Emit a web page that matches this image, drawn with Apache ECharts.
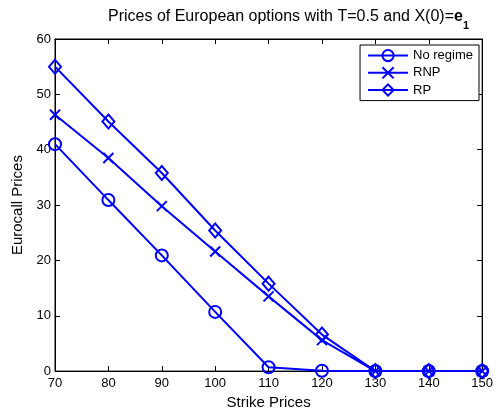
<!DOCTYPE html>
<html><head><meta charset="utf-8">
<script src="https://cdn.jsdelivr.net/npm/echarts@6/dist/echarts.min.js"></script>
<style>html,body{margin:0;padding:0;background:#fff}#c{width:496px;height:415px}</style>
</head><body><div id="c"></div>
<script>
var strikes = [70, 80, 90, 100, 110, 120, 130, 140, 150];
var noRegime = [41.0, 30.9, 20.9, 10.7, 0.7, 0.05, 0, 0, 0];
var rnp = [46.3, 38.5, 29.8, 21.6, 13.5, 5.6, 0, 0, 0];
var rp = [55.0, 45.1, 35.8, 25.4, 15.8, 6.6, 0, 0, 0];
var seriesNames = ['No regime', 'RNP', 'RP'];

var BLUE = '#0000ff';
var FONT = 'Liberation Sans, Arial, sans-serif';
function pairs(vals){ return strikes.map(function(x,i){ return [x, vals[i]]; }); }

var crossPath = 'path://M0,0L10,10M10,0L0,10';
function mkSeries(name, vals, symbol, size){
  return {
    name: name, type: 'line', data: pairs(vals), symbol: symbol, symbolSize: size,
    showAllSymbol: true,
    lineStyle: { color: BLUE, width: 2 },
    itemStyle: { color: 'rgba(0,0,0,0)', borderColor: BLUE, borderWidth: 2 },
    emphasis: { disabled: true }, animation: false, z: 3
  };
}

function axisCommon(pos, labels){
  var isX = (pos === 'bottom' || pos === 'top');
  return {
    type: 'value', position: pos, min: isX ? 70 : 0, max: isX ? 150 : 60, interval: 10,
    axisLine: { show: true, onZero: false, lineStyle: { color: '#000', width: 1 } },
    axisTick: { show: true, inside: true, length: 5, lineStyle: { color: '#000' } },
    axisLabel: { show: labels, color: '#000', fontSize: 13, fontFamily: FONT, margin: isX ? 6 : 4 },
    splitLine: { show: false }
  };
}

var xb = axisCommon('bottom', true);
xb.name = 'Strike Prices'; xb.nameLocation = 'middle'; xb.nameGap = 22;
xb.nameTextStyle = { color: '#000', fontSize: 15, fontFamily: FONT };
var xt = axisCommon('top', false);
var yl = axisCommon('left', true);
yl.name = 'Eurocall Prices'; yl.nameLocation = 'middle'; yl.nameGap = 20;
yl.nameTextStyle = { color: '#000', fontSize: 15, fontFamily: FONT };
var yr = axisCommon('right', false);

var chart = echarts.init(document.getElementById('c'), null, { renderer: 'canvas' });
chart.setOption({
  animation: false,
  backgroundColor: '#fff',
  title: {
    text: '{a|Prices of European options with T=0.5 and X(0)=}{b|e}{c|1}',
    left: 103, top: 4,
    textStyle: {
      fontWeight: 'normal',
      rich: {
        a: { fontSize: 16, fontWeight: 'normal', fontFamily: FONT, color: '#000', lineHeight: 18, verticalAlign: 'top' },
        b: { fontSize: 16, fontWeight: 'bold', fontFamily: FONT, color: '#000', lineHeight: 18, verticalAlign: 'top' },
        c: { fontSize: 11, fontWeight: 'bold', fontFamily: FONT, color: '#000', lineHeight: 12, padding: [11, 0, 0, 0], verticalAlign: 'top' }
      }
    }
  },
  grid: { left: 55, right: 11, top: 39, bottom: 38, show: true, borderColor: '#000', borderWidth: 1, containLabel: false },
  xAxis: [xb, xt],
  yAxis: [yl, yr],
  legend: {
    data: seriesNames, orient: 'vertical', right: 17, top: 45,
    backgroundColor: '#fff', borderColor: '#000', borderWidth: 1, borderRadius: 0,
    padding: [4, 6, 4, 7], itemWidth: 40, itemHeight: 14, itemGap: 4,
    textStyle: { color: '#000', fontSize: 13, fontFamily: FONT }
  },
  series: [
    mkSeries(seriesNames[0], noRegime, 'circle', 12),
    mkSeries(seriesNames[1], rnp, crossPath, 10),
    mkSeries(seriesNames[2], rp, 'diamond', [12, 14])
  ]
});
</script></body></html>
